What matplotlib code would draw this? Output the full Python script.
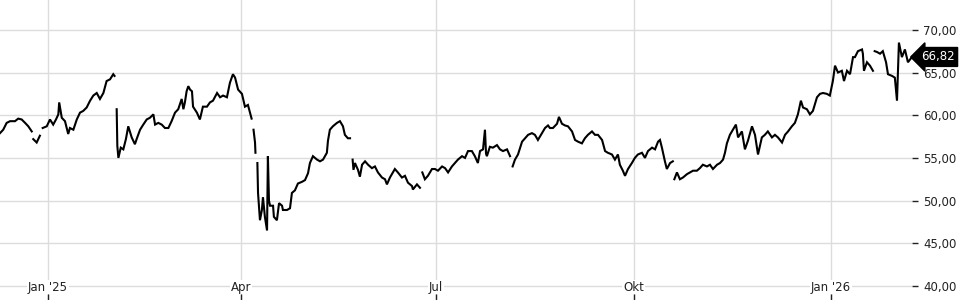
import numpy as np
import pandas as pd
import matplotlib
matplotlib.use("Agg")
import matplotlib.pyplot as plt
from matplotlib import transforms

# price series; None = break in the line
start = pd.Timestamp("2024-12-09 15:00")
day_offset = [
    0.0, 1.5, 3.1, 4.7, 7.0, 8.5, 10.1, 11.7, 13.2, 14.8,
    15.15,
    15.5, 17.1, 18.6,
    19.2,
    19.9, 21.8, 23.3, 24.8, 26.1, 27.2, 27.6, 28.8, 30.3, 31.8, 32.6, 34.2, 35.8, 37.3, 38.8,
    40.4, 42.0, 43.5, 45.1, 46.6, 48.2, 49.7, 51.3, 52.8, 53.4,
    53.9,
    54.4, 54.7, 55.2, 56.3, 57.5, 58.7, 59.8, 61.4, 62.9, 63.7, 65.3, 66.8, 68.4, 69.9, 71.5,
    72.3, 73.8, 75.4, 76.9, 78.5, 80.0, 81.6, 83.1, 84.7, 85.5, 86.2, 87.0, 87.8, 88.6, 89.5,
    90.0, 91.8, 93.2, 94.6, 96.5, 97.9, 99.3, 101.2, 102.6, 104.0, 105.8, 107.2, 108.6, 109.6,
    111.0, 112.8, 114.2, 115.6, 117.3,
    117.75,
    118.2, 118.9, 119.1,
    119.55,
    120.0, 120.3, 121.2, 122.1, 122.6, 123.5, 124.5, 124.9, 125.4, 125.9, 127.3, 127.7, 129.1,
    130.1, 131.5, 131.9, 133.8, 135.2, 136.1, 137.5, 138.9, 140.8, 142.2, 143.6, 144.5, 145.9,
    147.8, 149.2, 150.6, 152.4, 152.9, 153.8, 155.2, 157.1, 158.5, 159.9, 160.8, 162.2, 163.2,
    163.8,
    164.4, 164.8, 165.5, 166.9, 167.8, 168.8, 170.2, 171.6, 173.4, 174.8, 176.2, 178.1, 179.5,
    180.4, 181.8, 183.2, 184.1, 185.5, 187.4, 188.8, 190.2, 192.1, 192.5, 194.4, 195.8,
    196.35,
    196.9, 198.1, 199.5, 201.4, 202.8, 204.2, 206.1, 207.5, 208.9, 210.7, 212.1, 213.5, 215.4,
    216.8, 218.2, 220.0, 221.4, 222.8, 223.8, 225.2, 226.1, 226.6, 227.0, 228.4, 229.8, 231.7,
    233.1, 234.5, 236.4, 237.8,
    238.4,
    239.0, 240.1, 241.5, 243.4, 244.8, 246.2, 248.0, 249.4, 250.8, 252.7, 254.1, 255.5, 256.4,
    257.8, 259.7, 260.6, 262.0, 263.4, 264.8, 266.7, 268.1, 269.5, 271.3, 272.7, 274.1, 276.0,
    277.4, 278.8, 280.7, 282.1, 283.4, 285.3, 286.7, 288.1, 289.0, 290.4, 291.4, 292.8, 294.6,
    296.0, 297.4, 299.3, 300.7, 302.1, 304.0, 305.4, 306.8, 307.7, 308.6, 310.0, 310.9, 312.4,
    313.7,
    314.05,
    314.4, 315.6, 317.0, 318.4, 320.3, 321.7, 323.1, 324.9, 326.3, 327.7, 329.6, 331.0, 332.4,
    334.3, 335.7, 337.1, 338.0, 338.9, 340.3, 341.7, 343.1, 344.1, 345.9, 347.3, 348.7, 350.6,
    352.0, 353.4, 355.2, 356.6, 358.0, 359.9, 361.3, 362.7, 364.6, 366.0, 367.4, 369.2, 370.6,
    372.0, 373.4, 374.4, 376.2, 377.6, 379.0, 380.9, 382.3, 383.7, 385.5, 386.9, 388.3, 389.3,
    390.7, 392.5, 393.5, 394.9, 396.3, 397.7, 398.6, 400.0, 401.9, 402.3, 402.8, 404.2, 405.6,
    407.0,
    407.4,
    407.8, 408.9, 410.3, 411.6, 413.1, 414.0, 415.9, 417.2, 418.2, 418.6, 419.1, 420.5, 421.9,
    423.3, 425.2,
]
price = [
    57.9, 58.3, 59.1, 59.3, 59.3, 59.6, 59.5, 59.1, 58.7, 58.1,
    None,
    57.2, 56.8, 57.6,
    None,
    58.5, 58.7, 59.5, 58.9, 59.5, 60.1, 61.5, 59.7, 59.3, 57.8, 58.5, 58.3, 59.5, 60.3, 60.5,
    60.9, 61.7, 62.3, 62.6, 61.9, 62.6, 64.0, 64.2, 64.8, 64.6,
    None,
    60.7, 56.4, 55.0, 56.2, 56.0, 57.2, 58.7, 57.4, 56.6, 57.2, 58.3, 58.9, 59.5, 59.7, 60.1,
    58.9, 59.1, 58.9, 58.5, 58.5, 59.3, 60.3, 60.7, 61.9, 60.7, 61.5, 62.8, 63.4, 63.0, 62.8,
    61.0, 60.3, 59.5, 61.0, 61.0, 61.5, 61.7, 62.6, 62.1, 62.3, 62.1, 63.8, 64.8, 64.4,
    63.0, 62.5, 61.0, 61.2, 59.6,
    None,
    58.3, 56.8, 55.6,
    None,
    54.4, 50.9, 47.7, 48.9, 50.4, 48.1, 46.5, 55.2, 50.0, 49.4, 49.4, 48.1, 47.7,
    49.7, 49.4, 48.9, 48.9, 49.1, 50.9, 51.2, 52.0, 52.2, 52.4, 53.2, 54.4, 55.2,
    54.8, 54.6, 54.8, 55.6, 57.0, 58.3, 58.7, 59.1, 59.3, 58.7, 57.7, 57.3, 57.3,
    None,
    54.8, 53.6, 54.4, 53.6, 52.8, 54.2, 54.6, 54.2, 53.8, 54.0, 53.3, 52.7, 52.5,
    51.9, 52.7, 53.3, 53.7, 53.3, 52.7, 52.9, 52.1, 51.7, 51.3, 51.9, 51.5,
    None,
    53.3, 52.5, 52.9, 53.7, 53.7, 53.5, 54.0, 53.8, 53.3, 54.0, 54.4, 54.8, 55.2,
    55.0, 55.8, 55.8, 55.2, 54.4, 55.8, 56.0, 58.3, 55.5, 55.2, 56.3, 56.2, 56.5,
    56.0, 55.8, 56.0, 55.2,
    None,
    54.0, 54.8, 55.4, 56.9, 57.3, 57.7, 57.9, 57.7, 57.1, 57.9, 58.5, 58.8, 58.5,
    58.5, 59.0, 59.8, 59.0, 58.8, 58.7, 58.1, 57.1, 56.9, 56.7, 57.3, 57.7, 58.1,
    57.7, 57.7, 57.1, 55.8, 55.6, 55.4, 54.8, 55.4, 54.2, 53.5, 52.9, 53.7, 54.4,
    55.0, 55.4, 55.6, 55.0, 55.8, 56.2, 56.0, 56.9, 57.1, 56.2, 54.6, 53.7, 54.4,
    54.6,
    None,
    52.5, 53.3, 52.5, 52.7, 53.1, 53.3, 53.5, 53.5, 53.8, 54.2, 54.0, 54.2, 53.7,
    54.2, 54.4, 54.8, 55.6, 56.7, 57.7, 58.3, 58.9, 57.4, 58.1, 56.0, 57.0, 58.7,
    57.7, 55.4, 57.4, 57.7, 58.1, 57.4, 57.7, 57.4, 56.8, 57.7, 58.1, 58.7, 59.1,
    60.1, 61.7, 60.9, 60.7, 60.1, 60.5, 62.1, 62.5, 62.6, 62.5, 62.3, 64.0, 65.8,
    65.0, 65.2, 64.0, 65.2, 64.8, 66.8, 66.8, 67.5, 67.7, 67.2, 65.2, 66.2, 65.8,
    65.2,
    None,
    67.5, 67.4, 67.2, 67.5, 66.2, 64.8, 64.6, 64.4, 61.7, 64.8, 68.5, 66.8, 67.7,
    66.2, 66.82,
]
last_price = 66.82
tick_dates = ["2025-01-01", "2025-04-01", "2025-07-01", "2025-10-01", "2026-01-01"]
tick_labels = ["Jan '25", "Apr", "Jul", "Okt", "Jan '26"]
y_ticks = [40, 45, 50, 55, 60, 65, 70]

dates = start + pd.to_timedelta(day_offset, unit="D")
values = np.array([np.nan if p is None else p for p in price], dtype=float)
tdates = pd.to_datetime(tick_dates)

fig = plt.figure(figsize=(9.6, 3.0), dpi=100)
ax = fig.add_axes([0, 0, 912 / 960, 1])

ax.plot(dates, values, color="black", lw=1.5, solid_joinstyle="miter")

ax.set_xlim(start, start + pd.Timedelta(days=425.2))
ax.set_ylim(38.36, 73.49)

for s in ax.spines.values():
    s.set_visible(False)

ax.set_xticks(tdates)
ax.set_xticklabels([])
ax.tick_params(axis="x", direction="in", length=4, width=1, color="#222222")
ax.set_yticks(y_ticks)
ax.set_yticklabels([f"{v:.2f}".replace(".", ",") for v in y_ticks])
ax.yaxis.tick_right()
ax.tick_params(axis="y", direction="out", length=4, width=1, color="#222222",
               labelsize=8.5, labelcolor="#222222", pad=4)
ax.grid(True, color="#dcdcdc", lw=1)
ax.set_axisbelow(True)

for d, lab in zip(tdates, tick_labels):
    ax.text(d, 39.88, lab, ha="center", va="center", fontsize=8.5, color="#222222",
            bbox=dict(fc="white", ec="none", pad=0.5), zorder=3)

trans = transforms.blended_transform_factory(ax.transAxes, ax.transData)
ax.text(1.0 + 9 / 912, last_price, f"{last_price:.2f}".replace(".", ","), transform=trans,
        ha="left", va="center", fontsize=8.5, color="white", clip_on=False, zorder=5,
        bbox=dict(boxstyle="larrow,pad=0.25", fc="black", ec="black"))

fig.savefig("out.png", dpi=100)
